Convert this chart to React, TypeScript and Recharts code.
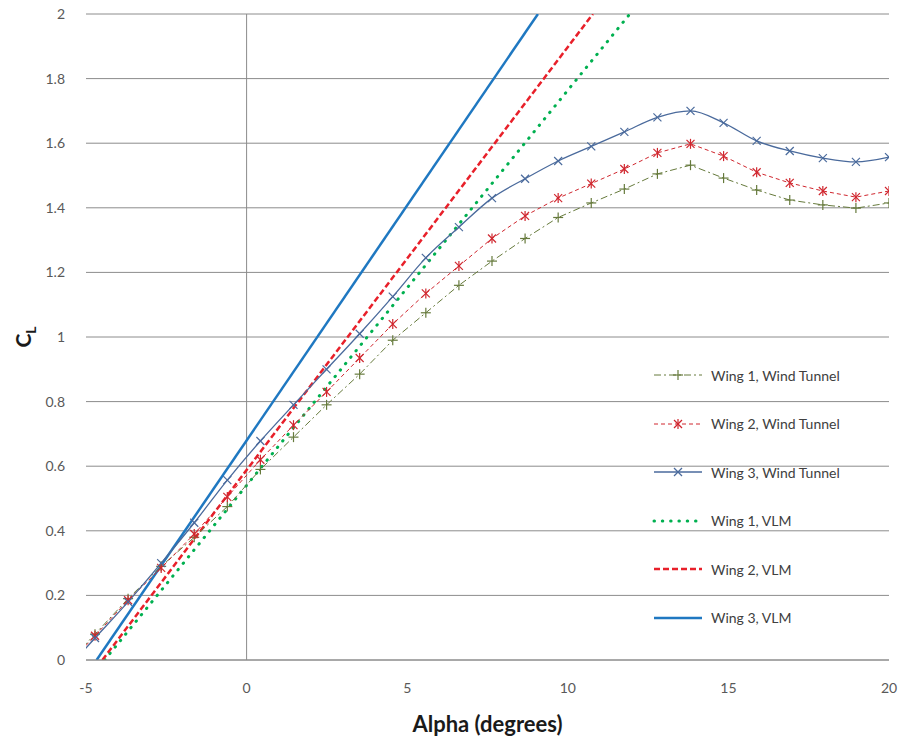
import React from 'react';
import { LineChart, Line, XAxis, YAxis, CartesianGrid, ReferenceLine, Label } from 'recharts';

// wind tunnel angles of attack (deg)
const alphaWT = [-5.75, -4.72, -3.69, -2.66, -1.63, -0.6, 0.43, 1.46, 2.49, 3.52, 4.55, 5.58, 6.61, 7.64, 8.67, 9.7, 10.73, 11.76, 12.79, 13.82, 14.85, 15.88, 16.91, 17.94, 18.97, 20.0];
const wing1WT = [-0.03, 0.08, 0.19, 0.29, 0.38, 0.475, 0.59, 0.69, 0.79, 0.885, 0.99, 1.075, 1.16, 1.235, 1.305, 1.37, 1.415, 1.458, 1.505, 1.532, 1.492, 1.455, 1.424, 1.409, 1.399, 1.415];
const wing2WT = [-0.035, 0.075, 0.185, 0.285, 0.39, 0.505, 0.62, 0.727, 0.83, 0.935, 1.04, 1.135, 1.22, 1.305, 1.375, 1.43, 1.475, 1.52, 1.57, 1.598, 1.56, 1.51, 1.477, 1.452, 1.433, 1.452];
const wing3WT = [-0.045, 0.068, 0.18, 0.3, 0.425, 0.557, 0.678, 0.79, 0.9, 1.01, 1.125, 1.245, 1.34, 1.43, 1.49, 1.545, 1.59, 1.635, 1.68, 1.7, 1.663, 1.607, 1.576, 1.554, 1.542, 1.557];

// VLM predictions (straight lines)
const vlmAlpha1 = [-4.42, 11.93];
const vlmAlpha2 = [-4.49, 10.78];
const vlmAlpha3 = [-4.67, 9.07];
const vlmCL = [0, 2];

const xTicks = [-5, 0, 5, 10, 15, 20];
const yTicks = [0, 0.2, 0.4, 0.6, 0.8, 1, 1.2, 1.4, 1.6, 1.8, 2];

const C1 = '#667a3c';
const C2 = '#d0262e';
const C3 = '#4a6a9c';
const V1 = '#00b050';
const V2 = '#e8202a';
const V3 = '#1f78c1';

const toRows = (xs: number[], ys: number[]) => xs.map((a, i) => ({ alpha: a, cl: ys[i] }));

const FONT = 'Lato, "Open Sans", sans-serif';

const Plus = (cx: number, cy: number, color: string, key?: any) => (
  <g key={key}>
    <line x1={cx - 5} y1={cy} x2={cx + 5} y2={cy} stroke={color} strokeWidth={1.2} />
    <line x1={cx} y1={cy - 5} x2={cx} y2={cy + 5} stroke={color} strokeWidth={1.2} />
  </g>
);
const Cross = (cx: number, cy: number, color: string, key?: any) => (
  <g key={key}>
    <line x1={cx - 4} y1={cy - 4} x2={cx + 4} y2={cy + 4} stroke={color} strokeWidth={1.2} />
    <line x1={cx - 4} y1={cy + 4} x2={cx + 4} y2={cy - 4} stroke={color} strokeWidth={1.2} />
  </g>
);
const Star = (cx: number, cy: number, color: string, key?: any) => (
  <g key={key}>
    {Cross(cx, cy, color)}
    <line x1={cx} y1={cy - 5} x2={cx} y2={cy + 5} stroke={color} strokeWidth={1.2} />
  </g>
);

const dotOf = (fn: typeof Plus, color: string) => (p: any) => fn(p.cx, p.cy, color, p.key ?? p.index);

const legendItems = [
  { name: 'Wing 1, Wind Tunnel', color: C1, width: 1, dash: '7 3 2 3', marker: Plus },
  { name: 'Wing 2, Wind Tunnel', color: C2, width: 1, dash: '4 3', marker: Star },
  { name: 'Wing 3, Wind Tunnel', color: C3, width: 1.3, dash: undefined, marker: Cross },
  { name: 'Wing 1, VLM', color: V1, width: 3, dash: '0.5 7.8', marker: null },
  { name: 'Wing 2, VLM', color: V2, width: 2.5, dash: '6 3', marker: null },
  { name: 'Wing 3, VLM', color: V3, width: 2.5, dash: undefined, marker: null },
];

const LegendBox = () => (
  <div style={{ position: 'absolute', left: 652, top: 351, fontFamily: FONT, fontSize: 14, color: '#404040' }}>
    {legendItems.map((it) => (
      <div key={it.name} style={{ height: 48.5, display: 'flex', alignItems: 'center' }}>
        <svg width={54} height={14} style={{ marginRight: 5 }}>
          <line x1={2} y1={7} x2={50} y2={7} stroke={it.color} strokeWidth={it.width}
            strokeDasharray={it.dash} strokeLinecap={it.dash === '0.5 7.8' ? 'round' : 'butt'} />
          {it.marker && it.marker(26, 7, it.color)}
        </svg>
        <span>{it.name}</span>
      </div>
    ))}
  </div>
);

const YTitle = (props: any) => {
  const { viewBox } = props;
  const cy = viewBox.y + viewBox.height / 2;
  return (
    <text x={0} y={0} transform={`translate(31, ${cy}) rotate(-90)`} textAnchor="middle"
      fontFamily={FONT} fontWeight={700} fontSize={21} fill="#1a1a1a">
      C<tspan fontSize={14} dy={5}>L</tspan>
    </text>
  );
};

const fmt = (v: number) => String(+v.toFixed(1));

const App: React.FC = () => {
  return (
    <div style={{ position: 'absolute', left: 0, top: 0, width: 901, height: 746, background: '#fff' }}>
      <LineChart width={901} height={746} margin={{ top: 14, right: 12, left: 0, bottom: 0 }}>
        <CartesianGrid vertical={false} stroke="#8c8c8c" strokeWidth={1} />
        <XAxis type="number" dataKey="alpha" domain={[-5, 20]} ticks={xTicks} allowDataOverflow
          stroke="#8c8c8c" tickLine={false} tickMargin={17} height={86}
          tick={{ fill: '#595959', fontSize: 14, fontFamily: FONT }}>
          <Label value="Alpha (degrees)" position="insideBottom" offset={14}
            style={{ fontFamily: FONT, fontWeight: 700, fontSize: 22, fill: '#1a1a1a' }} />
        </XAxis>
        <YAxis type="number" domain={[0, 2]} ticks={yTicks} allowDataOverflow width={86}
          axisLine={false} tickLine={false} tickMargin={15} tickFormatter={fmt}
          tick={{ fill: '#595959', fontSize: 14, fontFamily: FONT }}>
          <Label content={<YTitle />} />
        </YAxis>
        <ReferenceLine x={0} stroke="#8c8c8c" strokeWidth={1} />

        <Line data={toRows(vlmAlpha1, vlmCL)} dataKey="cl" stroke={V1} strokeWidth={3}
          strokeDasharray="0.5 7.8" strokeLinecap="round" dot={false} isAnimationActive={false} />
        <Line data={toRows(vlmAlpha2, vlmCL)} dataKey="cl" stroke={V2} strokeWidth={2.5}
          strokeDasharray="6 3" dot={false} isAnimationActive={false} />
        <Line data={toRows(vlmAlpha3, vlmCL)} dataKey="cl" stroke={V3} strokeWidth={2.5}
          dot={false} isAnimationActive={false} />

        <Line data={toRows(alphaWT, wing1WT)} dataKey="cl" type="linear" stroke={C1} strokeWidth={1}
          strokeDasharray="7 3 2 3" dot={dotOf(Plus, C1)} isAnimationActive={false} />
        <Line data={toRows(alphaWT, wing2WT)} dataKey="cl" type="linear" stroke={C2} strokeWidth={1}
          strokeDasharray="4 3" dot={dotOf(Star, C2)} isAnimationActive={false} />
        <Line data={toRows(alphaWT, wing3WT)} dataKey="cl" type="monotone" stroke={C3} strokeWidth={1.3}
          dot={dotOf(Cross, C3)} isAnimationActive={false} />
      </LineChart>
      <LegendBox />
    </div>
  );
};

export default App;
